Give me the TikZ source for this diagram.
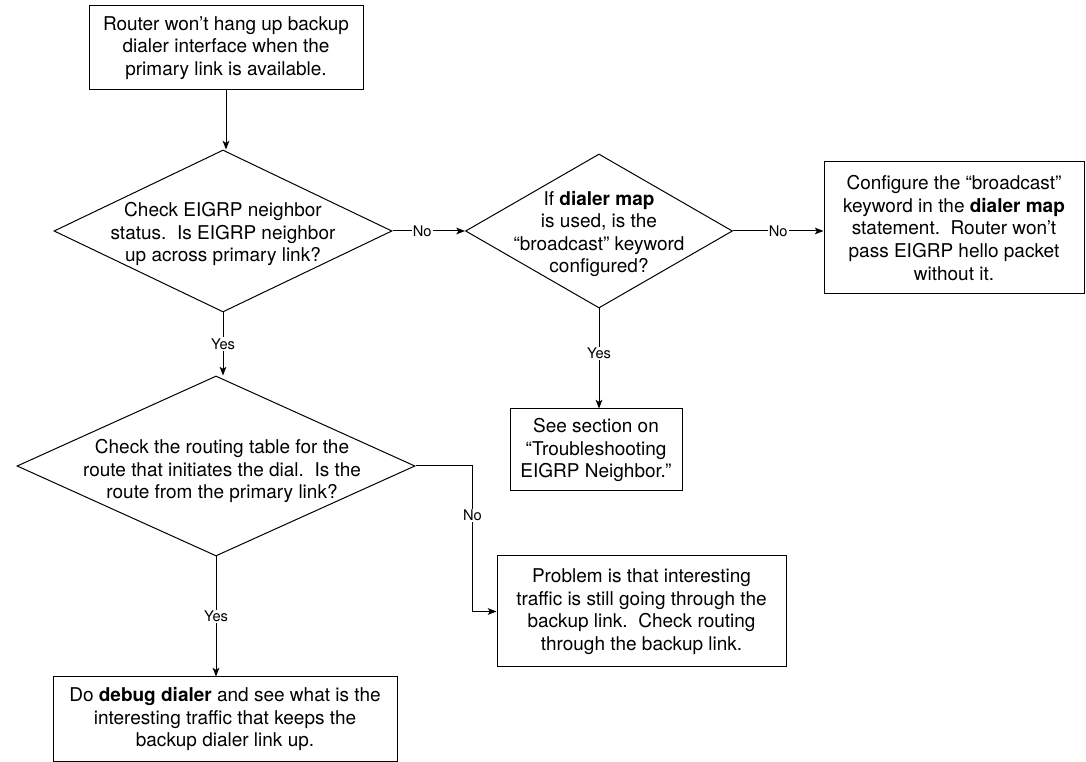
\documentclass[tikz,border=0pt]{standalone}
\usepackage{fontspec}
\setmainfont{TeX Gyre Heros}
\usetikzlibrary{shapes.geometric,arrows.meta}
\begin{document}
\begin{tikzpicture}[x=0.75pt,y=-0.75pt,
  every node/.style={font=\fontsize{14.25pt}{16.9pt}\selectfont},
  box/.style={draw, line width=0.75pt, align=center, inner sep=0pt},
  dia/.style={diamond, draw, line width=0.75pt, inner sep=0pt},
  txt/.style={align=center, inner sep=0pt},
  lbl/.style={font=\fontsize{11pt}{12pt}\selectfont, fill=white, inner sep=1pt},
  conn/.style={line width=0.75pt, -{Stealth[length=6.5pt,width=5pt,inset=1.5pt]}}]
\useasboundingbox (0,0) rectangle (1086,762);

\node[box, minimum width=205.5pt, minimum height=63pt] (start) at (226,48)
  {Router won’t hang up backup\\dialer interface when the\\primary link is available.};

\node[dia, minimum width=253.5pt, minimum height=121.5pt] (d1) at (223,231) {};
\node[txt] (d1t) at (223,234) {Check EIGRP neighbor\\status.\ \ Is EIGRP neighbor\\up across primary link?};

\node[dia, minimum width=200.25pt, minimum height=115.5pt] (d2) at (599,231) {};
\node[txt] (d2t) at (599,234) {If \textbf{dialer map}\\is used, is the\\“broadcast” keyword\\configured?};

\node[box, minimum width=195pt, minimum height=99pt] (box3) at (954,228)
  {Configure the “broadcast”\\keyword in the \textbf{dialer map}\\statement.\ \ Router won’t\\pass EIGRP hello packet\\without it.};

\node[box, minimum width=129pt, minimum height=61.5pt] (box4) at (596,450)
  {See section on\\“Troubleshooting\\EIGRP Neighbor.”};

\node[dia, minimum width=298.5pt, minimum height=135pt] (d3) at (216,466) {};
\node[txt] (d3t) at (222,471) {Check the routing table for the\\route that initiates the dial.\ \ Is the\\route from the primary link?};

\node[box, minimum width=216.75pt, minimum height=83.25pt] (box5) at (641.5,611.5)
  {Problem is that interesting\\traffic is still going through the\\backup link.\ \ Check routing\\through the backup link.};

\node[box, minimum width=258pt, minimum height=63pt] (box6) at (225,719)
  {Do \textbf{debug dialer} and see what is the\\interesting traffic that keeps the\\backup dialer link up.};

\draw[conn] (start.south) -- (start.south |- d1.north);
\draw[conn] (d1.east) -- node[lbl, pos=0.41] (n1) {No} (d2.west);
\draw[conn] (d2.east) -- node[lbl] (n2) {No} (d2.east -| box3.west);
\draw[conn] (d2.south) -- node[lbl, pos=0.45] (y2) {Yes} (d2.south |- box4.north);
\draw[conn] (d1.south) -- node[lbl] (y1) {Yes} (d1.south |- d3.north);
\draw[conn] (d3.east) -- ++(57,0) |- node[lbl, pos=0.17] (n3) {No} (box5.west);
\draw[conn] (d3.south) -- node[lbl] (y3) {Yes} (d3.south |- box6.north);
\end{tikzpicture}
\end{document}
